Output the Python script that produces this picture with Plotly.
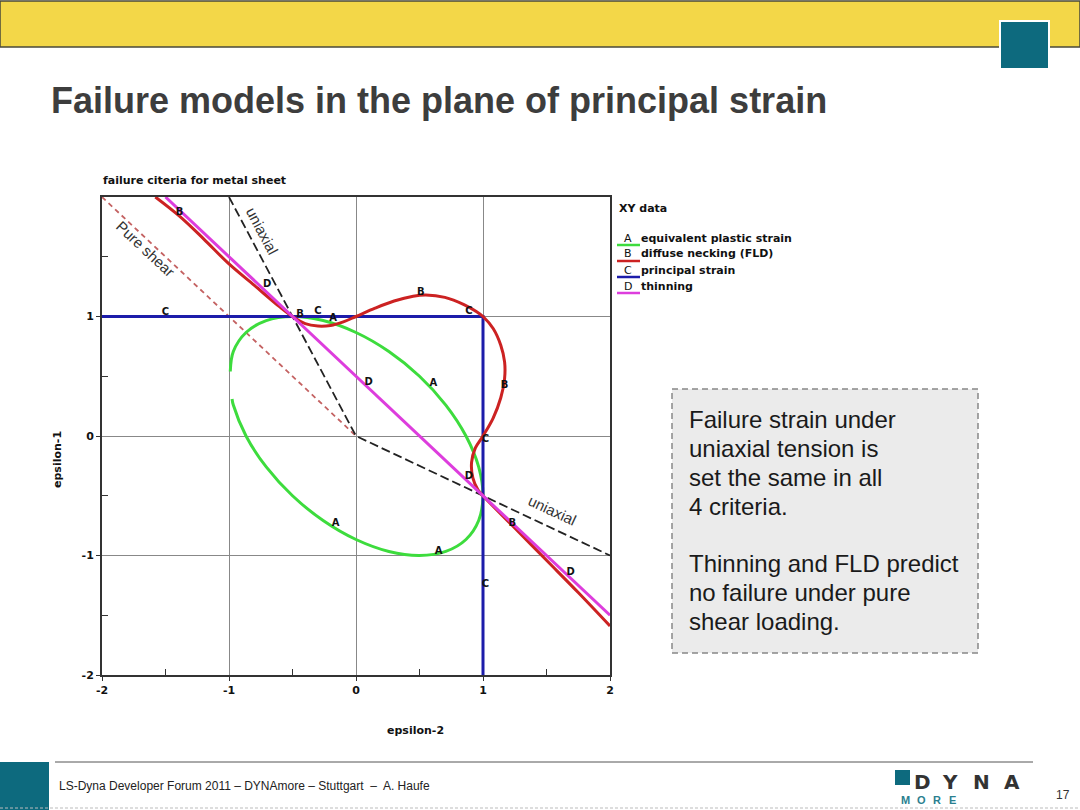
import plotly.graph_objects as go

# ---------------- data ----------------
# A: equivalent plastic strain (gap near the left edge as in the picture)
eq_x = [-0.99, -0.966, -0.866, -0.707, -0.5, -0.259, 0.0, 0.259, 0.5, 0.707, 0.866, 0.966,
        1.0, 0.966, 0.866, 0.707, 0.5, 0.259, 0.0, -0.259, -0.5, -0.707, -0.866, -0.966, -0.976]
eq_y = [0.54, 0.707, 0.866, 0.966, 1.0, 0.966, 0.866, 0.707, 0.5, 0.259, 0.0, -0.259,
        -0.5, -0.707, -0.866, -0.966, -1.0, -0.966, -0.866, -0.707, -0.5, -0.259, 0.0, 0.259, 0.31]
# B: diffuse necking (FLD)
fld_x = [-1.58, -1.39, -1.2, -1.0, -0.8, -0.6, -0.5, -0.4, -0.3, -0.2, -0.1, 0.0, 0.15, 0.3,
         0.45, 0.55, 0.7, 0.85, 0.95, 1.0, 1.08, 1.14, 1.17, 1.17, 1.14, 1.08, 1.0, 0.94,
         0.91, 0.92, 0.96, 1.0, 1.25, 1.5, 1.75, 2.0]
fld_y = [2.0, 1.84, 1.65, 1.44, 1.26, 1.08, 1.0, 0.94, 0.92, 0.925, 0.955, 1.0, 1.07, 1.13,
         1.17, 1.18, 1.16, 1.10, 1.04, 1.0, 0.9, 0.76, 0.62, 0.48, 0.32, 0.15, 0.0, -0.1,
         -0.22, -0.35, -0.45, -0.5, -0.77, -1.04, -1.31, -1.59]
# C: principal strain
ps_x = [-2.0, 1.0, 1.0]
ps_y = [1.0, 1.0, -2.0]
# D: thinning
thin_x = [-1.5, 2.0]
thin_y = [2.0, -1.5]
# reference lines
uni_x = [-1.0, 0.0, 2.0]
uni_y = [2.0, 0.0, -1.0]
shear_x = [-2.0, 0.0]
shear_y = [2.0, 0.0]
# curve letters
lab_x = [-1.39, -0.70, -1.50, -0.44, -0.30, -0.18, 0.51, 0.89, 0.10, 0.61, 1.17, 1.02,
         0.89, 1.23, -0.16, 0.65, 1.02, 1.69]
lab_y = [1.87, 1.27, 1.03, 1.02, 1.04, 0.98, 1.20, 1.04, 0.45, 0.44, 0.42, -0.03,
         -0.34, -0.73, -0.73, -0.97, -1.24, -1.14]
lab_t = ["B", "D", "C", "B", "C", "A", "B", "C", "D", "A", "B", "C",
         "D", "B", "A", "A", "C", "D"]
x_ticks = [-2, -1, 0, 1, 2]
y_ticks = [-2, -1, 0, 1]
minor_ticks = [-1.5, -0.5, 0.5, 1.5]

legend_letters = ["A", "B", "C", "D"]
legend_names = ["equivalent plastic strain", "diffuse necking (FLD)", "principal strain", "thinning"]

box_lines = ["Failure strain under", "uniaxial tension is", "set the same in all", "4 criteria.",
             "", "Thinning and FLD predict", "no failure under pure", "shear loading."]

# ---------------- colours ----------------
GREEN = "#3ddc3d"
RED = "#cc2222"
BLUE = "#1c1caa"
MAGENTA = "#dd3ddd"
TEAL = "#0d6a7e"
FONT = "DejaVu Sans"
SLIDE_FONT = "Liberation Sans"

W, H = 1080, 810
L, R, T, B = 102, 610, 197, 675


def px(x):
    return (x - L) / (R - L)


def py(y):
    return (B - y) / (B - T)


fig = go.Figure()

fig.add_trace(go.Scatter(x=shear_x, y=shear_y, mode="lines",
                         line=dict(color="#c46262", width=1.8, dash="5px,4px"), hoverinfo="skip"))
fig.add_trace(go.Scatter(x=uni_x, y=uni_y, mode="lines",
                         line=dict(color="#222222", width=1.8, dash="9px,4px"), hoverinfo="skip"))
fig.add_trace(go.Scatter(x=eq_x, y=eq_y, mode="lines", line=dict(color=GREEN, width=3, shape="spline"),
                         name="A"))
fig.add_trace(go.Scatter(x=ps_x, y=ps_y, mode="lines", line=dict(color=BLUE, width=3), name="C"))
fig.add_trace(go.Scatter(x=fld_x, y=fld_y, mode="lines", line=dict(color=RED, width=3, shape="spline"),
                         name="B"))
fig.add_trace(go.Scatter(x=thin_x, y=thin_y, mode="lines", line=dict(color=MAGENTA, width=3), name="D"))
fig.add_trace(go.Scatter(x=lab_x, y=lab_y, mode="text", text=[f"<b>{t}</b>" for t in lab_t],
                         textfont=dict(family=FONT, size=10, color="#111111"), hoverinfo="skip"))

axis_common = dict(showgrid=True, gridcolor="#888888", gridwidth=1, zeroline=False,
                   showline=True, linecolor="#333333", linewidth=2, mirror=True,
                   ticks="outside", ticklen=4, tickcolor="#333333", tickwidth=1,
                   tickfont=dict(family=FONT, size=11, color="#111111"),
                   minor=dict(tickvals=minor_ticks, ticks="inside", ticklen=6, tickcolor="#333333",
                              showgrid=False))

fig.update_xaxes(range=[-2, 2], tickvals=x_ticks, ticktext=[f"<b>{v}</b>" for v in x_ticks], **axis_common)
fig.update_yaxes(range=[-2, 2], tickvals=y_ticks, ticktext=[f"<b>{v}</b>" for v in y_ticks], **axis_common)

shapes = []
annotations = []

# slide header
shapes.append(dict(type="rect", xref="paper", yref="paper", x0=px(0), x1=px(1080), y0=py(1), y1=py(47),
                   fillcolor="#f3d748", line=dict(color="#4a4a3a", width=1.5), layer="below"))
shapes.append(dict(type="rect", xref="paper", yref="paper", x0=px(1000), x1=px(1049), y0=py(21), y1=py(69),
                   fillcolor=TEAL, line=dict(color="white", width=2)))
annotations.append(dict(xref="paper", yref="paper", x=px(49), y=py(101), xanchor="left", yanchor="middle",
                        text="<b>Failure models in the plane of principal strain</b>", showarrow=False,
                        font=dict(family=SLIDE_FONT, size=36, color="#3d3d3d")))

# chart title
annotations.append(dict(xref="paper", yref="paper", x=px(101), y=py(181), xanchor="left", yanchor="middle",
                        text="<b>failure citeria for metal sheet</b>", showarrow=False,
                        font=dict(family=FONT, size=11, color="#111111")))
# axis titles
annotations.append(dict(xref="paper", yref="paper", x=px(415), y=py(730), xanchor="center", yanchor="middle",
                        text="<b>epsilon-2</b>", showarrow=False,
                        font=dict(family=FONT, size=11, color="#111111")))
annotations.append(dict(xref="paper", yref="paper", x=px(57), y=py(460), xanchor="center", yanchor="middle",
                        text="<b>epsilon-1</b>", showarrow=False, textangle=-90,
                        font=dict(family=FONT, size=11, color="#111111")))
# line labels
annotations.append(dict(xref="x", yref="y", x=-1.66, y=1.57, text="Pure shear", showarrow=False, textangle=43,
                        font=dict(family=SLIDE_FONT, size=15, color="#333333")))
annotations.append(dict(xref="x", yref="y", x=-0.74, y=1.72, text="uniaxial", showarrow=False, textangle=62,
                        font=dict(family=SLIDE_FONT, size=15, color="#333333")))
annotations.append(dict(xref="x", yref="y", x=1.55, y=-0.62, text="uniaxial", showarrow=False, textangle=25,
                        font=dict(family=SLIDE_FONT, size=15, color="#333333")))

# legend
annotations.append(dict(xref="paper", yref="paper", x=px(617), y=py(208), xanchor="left", yanchor="middle",
                        text="<b>XY data</b>", showarrow=False, font=dict(family=FONT, size=11, color="#111111")))
leg_colors = [GREEN, RED, BLUE, MAGENTA]
for i, (lt, ln) in enumerate(zip(legend_letters, legend_names)):
    yy = 238 + 16 * i
    annotations.append(dict(xref="paper", yref="paper", x=px(628), y=py(yy), xanchor="center", yanchor="middle",
                            text=lt, showarrow=False, font=dict(family=FONT, size=11, color="#111111")))
    annotations.append(dict(xref="paper", yref="paper", x=px(639), y=py(yy), xanchor="left", yanchor="middle",
                            text=f"<b>{ln}</b>", showarrow=False, font=dict(family=FONT, size=11, color="#111111")))
    shapes.append(dict(type="line", xref="paper", yref="paper", x0=px(617), x1=px(640), y0=py(yy + 7), y1=py(yy + 7),
                       line=dict(color=leg_colors[i], width=2.5)))

# text box
shapes.append(dict(type="rect", xref="paper", yref="paper", x0=px(672), x1=px(978), y0=py(389), y1=py(653),
                   fillcolor="#ebebeb", line=dict(color="#888888", width=1.5, dash="6px,4px"), layer="below"))
for i, line in enumerate(box_lines):
    if not line:
        continue
    yy = 419 + 29 * i - (1 if i > 4 else 0)
    annotations.append(dict(xref="paper", yref="paper", x=px(687), y=py(yy), xanchor="left", yanchor="middle",
                            text=line, showarrow=False, font=dict(family=SLIDE_FONT, size=24, color="#1a1a1a")))

# footer
shapes.append(dict(type="rect", xref="paper", yref="paper", x0=px(0), x1=px(49), y0=py(762), y1=py(810),
                   fillcolor=TEAL, line=dict(width=0)))
shapes.append(dict(type="line", xref="paper", yref="paper", x0=px(55), x1=px(1033), y0=py(762), y1=py(762),
                   line=dict(color="#555555", width=1)))
shapes.append(dict(type="line", xref="paper", yref="paper", x0=px(0), x1=px(1080), y0=py(808), y1=py(808),
                   line=dict(color="#bbbbbb", width=1, dash="3px,2px")))
annotations.append(dict(xref="paper", yref="paper", x=px(57), y=py(786), xanchor="left", yanchor="middle",
                        text="LS-Dyna Developer Forum 2011 \u2013 DYNAmore \u2013 Stuttgart  \u2013  A. Haufe",
                        showarrow=False, font=dict(family=SLIDE_FONT, size=12, color="#222222")))
shapes.append(dict(type="rect", xref="paper", yref="paper", x0=px(895), x1=px(910), y0=py(770), y1=py(785),
                   fillcolor=TEAL, line=dict(width=0)))
for ch, cx in zip("DYNA", [922, 950, 981, 1012]):
    annotations.append(dict(xref="paper", yref="paper", x=px(cx), y=py(782), xanchor="center", yanchor="middle",
                            text=f"<b>{ch}</b>", showarrow=False,
                            font=dict(family="DejaVu Sans", size=20, color="#333333")))
for ch, cx in zip("MORE", [905, 921, 937, 952]):
    annotations.append(dict(xref="paper", yref="paper", x=px(cx), y=py(800), xanchor="center", yanchor="middle",
                            text=f"<b>{ch}</b>", showarrow=False,
                            font=dict(family=SLIDE_FONT, size=11, color="#2a7f8f")))
annotations.append(dict(xref="paper", yref="paper", x=px(1063), y=py(795), xanchor="center", yanchor="middle",
                        text="17", showarrow=False, font=dict(family=SLIDE_FONT, size=12, color="#333333")))

fig.update_layout(width=W, height=H, autosize=False,
                  margin=dict(l=L, r=W - R, t=T, b=H - B, pad=0),
                  paper_bgcolor="white", plot_bgcolor="white", showlegend=False,
                  shapes=shapes, annotations=annotations)

fig.write_html("out.html", config={"displayModeBar": False},
               post_script="document.body.style.margin='0';document.body.style.overflow='hidden';")
